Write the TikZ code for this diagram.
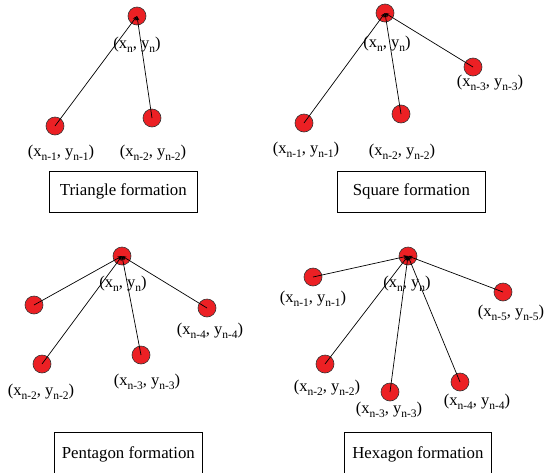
\documentclass[tikz,border=0pt]{standalone}
\usepackage{fontspec}
\setmainfont{Liberation Serif}
\usetikzlibrary{arrows.meta}
\newcommand\lsub[1]{\raisebox{-0.2em}{\fontsize{11.5}{11.5}\selectfont #1}}
\newcommand\lbl[1]{(x\lsub{#1}, y\lsub{#1})}
\tikzset{
  robot/.style={circle, draw=black!80, fill={rgb,255:red,236;green,32;blue,36}, line width=0.6pt, minimum size=18pt, inner sep=0pt},
  lab/.style={font=\fontsize{16.5}{16.5}\selectfont, inner sep=0pt},
  link/.style={draw=black, line width=0.7pt, -{Stealth[length=4.5pt,width=3.5pt]}},
  title/.style={draw=black, line width=0.7pt, font=\fontsize{16.8}{16.8}\selectfont, inner sep=0pt, anchor=north west}
}
\begin{document}
\begin{tikzpicture}[x=1pt,y=-1pt]
\useasboundingbox (0,0) rectangle (544,472);
\clip (0,0) rectangle (544,472);
% Triangle
\node[robot] (t0) at (137,16) {};
\node[robot] (t1) at (55,126) {};
\node[robot] (t2) at (152,118) {};
\draw[link] (t1.center) -- (t0.center);
\draw[link] (t2.center) -- (t0.center);
\node[lab] (t0l) at (137,45) {\lbl{n}};
\node[lab] (t1l) at (61,153) {\lbl{n-1}};
\node[lab] (t2l) at (153,153) {\lbl{n-2}};
\node[title, minimum width=148pt, minimum height=41pt] (tb) at (49,171) {Triangle formation};
% Square
\node[robot] (s0) at (385,13) {};
\node[robot] (s1) at (304,123) {};
\node[robot] (s2) at (401,114) {};
\node[robot] (s3) at (473,67) {};
\draw[link] (s1.center) -- (s0.center);
\draw[link] (s2.center) -- (s0.center);
\draw[link] (s3.center) -- (s0.center);
\node[lab] (s0l) at (387,44) {\lbl{n}};
\node[lab] (s1l) at (306,150) {\lbl{n-1}};
\node[lab] (s2l) at (402,152) {\lbl{n-2}};
\node[lab] (s3l) at (490,83) {\lbl{n-3}};
\node[title, minimum width=148pt, minimum height=41pt] (sb) at (337,171) {Square formation};
% Pentagon
\node[robot] (p0) at (122,256) {};
\node[robot] (p1) at (34,305) {};
\node[robot] (p2) at (42,364) {};
\node[robot] (p3) at (141,355) {};
\node[robot] (p4) at (207,308) {};
\draw[link] (p1.center) -- (p0.center);
\draw[link] (p2.center) -- (p0.center);
\draw[link] (p3.center) -- (p0.center);
\draw[link] (p4.center) -- (p0.center);
\node[lab] (p0l) at (123,284) {\lbl{n}};
\node[lab] (p2l) at (41,392) {\lbl{n-2}};
\node[lab] (p3l) at (147,382) {\lbl{n-3}};
\node[lab] (p4l) at (210,331) {\lbl{n-4}};
\node[title, minimum width=148pt, minimum height=60pt] (pb) at (54,432) {\raisebox{19pt}{Pentagon formation}};
% Hexagon
\node[robot] (h0) at (408,256) {};
\node[robot] (h1) at (313,277) {};
\node[robot] (h2) at (325,364) {};
\node[robot] (h3) at (390,392) {};
\node[robot] (h4) at (460,382) {};
\node[robot] (h5) at (503,292) {};
\draw[link] (h1.center) -- (h0.center);
\draw[link] (h2.center) -- (h0.center);
\draw[link] (h3.center) -- (h0.center);
\draw[link] (h4.center) -- (h0.center);
\draw[link] (h5.center) -- (h0.center);
\node[lab] (h0l) at (407,284) {\lbl{n}};
\node[lab] (h1l) at (313,299) {\lbl{n-1}};
\node[lab] (h2l) at (327,388) {\lbl{n-2}};
\node[lab] (h3l) at (389,410) {\lbl{n-3}};
\node[lab] (h4l) at (477,402) {\lbl{n-4}};
\node[lab] (h5l) at (511,313) {\lbl{n-5}};
\node[title, minimum width=147pt, minimum height=60pt] (hb) at (344,432) {\raisebox{19pt}{Hexagon formation}};
\end{tikzpicture}
\end{document}
